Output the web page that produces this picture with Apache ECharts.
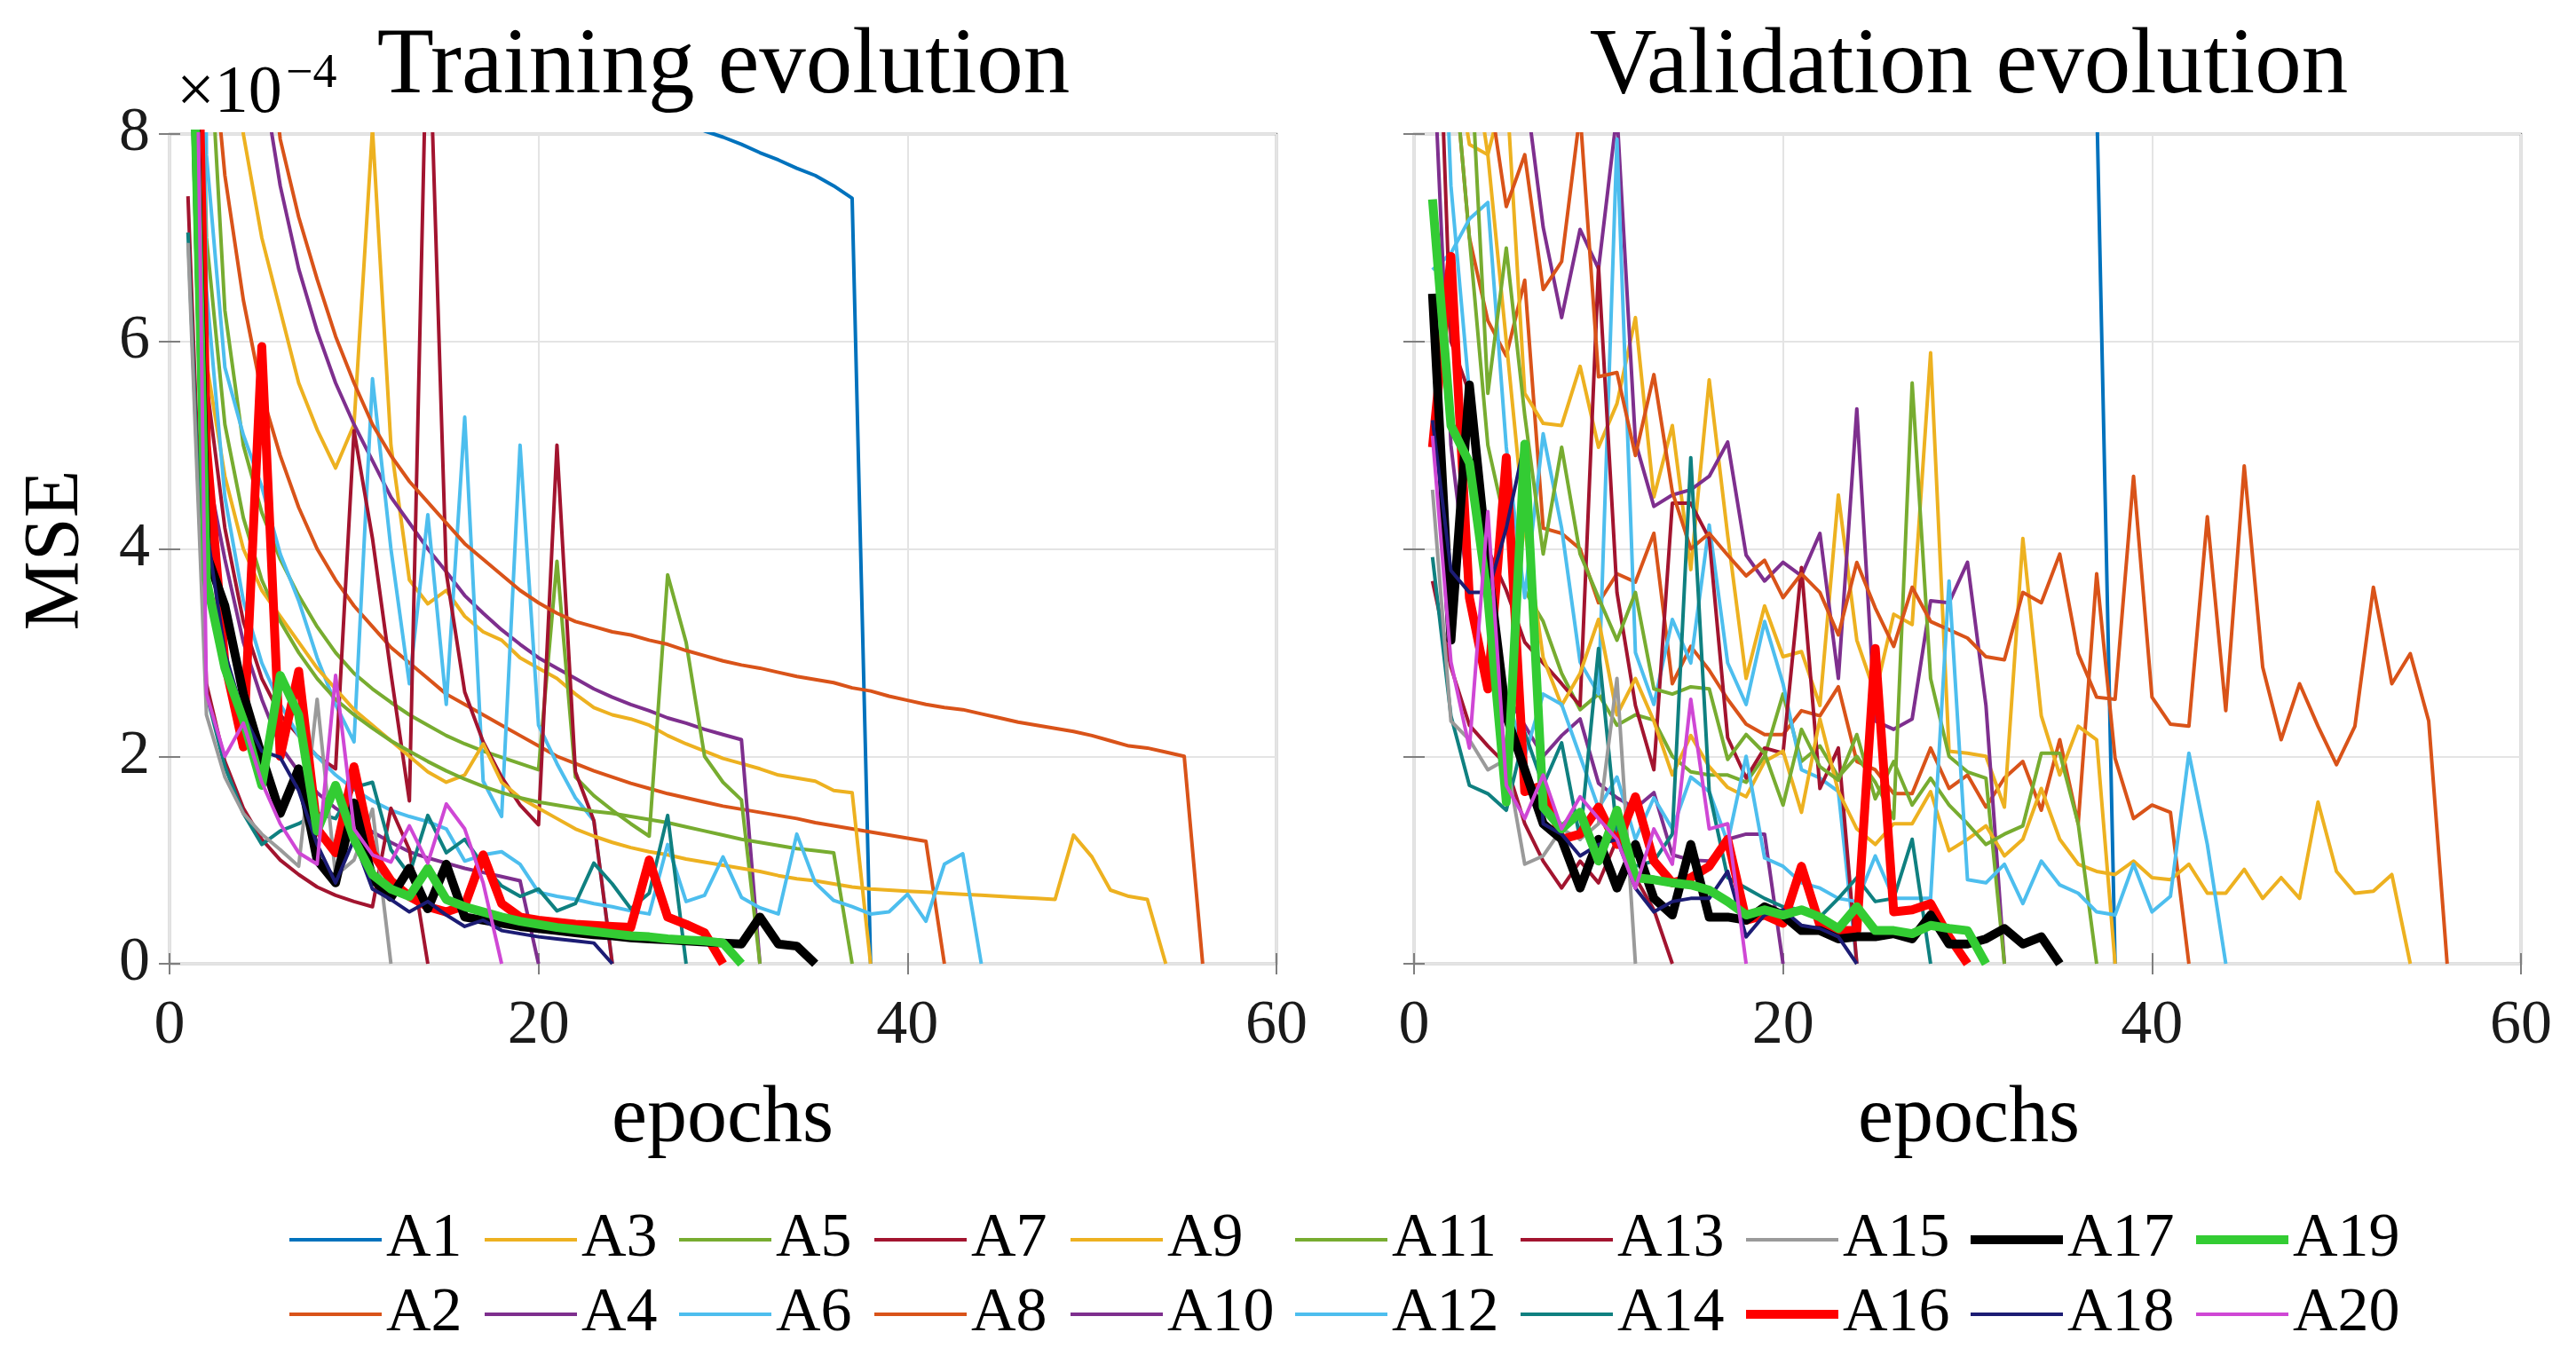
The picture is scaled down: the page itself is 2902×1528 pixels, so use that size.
<!DOCTYPE html>
<html>
<head>
<meta charset="utf-8">
<title>Training / Validation evolution</title>
<script src="https://cdn.jsdelivr.net/npm/echarts@6/dist/echarts.min.js"></script>
<style>
  html, body { margin: 0; padding: 0; background: #fff; }
  #chart { width: 2902px; height: 1528px; }
</style>
</head>
<body>
<div id="chart"></div>
<script>
// MSE values in units of 1e-4 (axis shows x10^-4), value i belongs to epoch i+1
// training
const trainA1 = [95, 60, 42, 33, 27, 23, 20, 18, 16.5, 15.2, 14.2, 13.3, 12.6, 12, 11.5, 11, 10.6, 10.2, 9.9, 9.6,
  9.35, 9.1, 8.9, 8.7, 8.55, 8.4, 8.27, 8.15, 8.03, 7.97, 7.9, 7.82, 7.75, 7.67, 7.6, 7.5, 7.38, 0];
const trainA2 = [30, 9.5, 7.6, 6.4, 5.5, 4.9, 4.4, 4.0, 3.7, 3.45, 3.25, 3.05, 2.9, 2.75, 2.6, 2.5, 2.4, 2.3, 2.2, 2.1,
  2.0, 1.93, 1.86, 1.8, 1.74, 1.69, 1.64, 1.6, 1.56, 1.52, 1.49, 1.46, 1.43, 1.4, 1.36, 1.33, 1.3, 1.27, 1.24, 1.21,
  1.18, 0];
const trainA3 = [40, 20, 11, 8.0, 7.0, 6.3, 5.6, 5.15, 4.78, 5.2, 8.05, 5.0, 3.7, 3.47, 3.6, 3.35, 3.2, 3.12, 2.95, 2.85,
  2.75, 2.6, 2.47, 2.4, 2.36, 2.3, 2.2, 2.12, 2.05, 1.98, 1.93, 1.88, 1.82, 1.79, 1.76, 1.67, 1.65, 0];
const trainA4 = [50, 25, 15, 11, 8.6, 7.5, 6.7, 6.1, 5.6, 5.2, 4.85, 4.5, 4.25, 4.0, 3.78, 3.55, 3.38, 3.22, 3.08, 2.95,
  2.85, 2.75, 2.65, 2.57, 2.5, 2.44, 2.37, 2.32, 2.26, 2.21, 2.16, 0];
const trainA5 = [12, 9.5, 6.3, 5.0, 4.35, 3.9, 3.55, 3.25, 3.0, 2.8, 2.65, 2.52, 2.4, 2.3, 2.2, 2.12, 2.05, 1.99, 1.93, 1.87,
  3.88, 1.8, 1.62, 1.48, 1.35, 1.23, 3.75, 3.1, 2.0, 1.75, 1.58, 0];
const trainA6 = [30, 7.8, 5.75, 5.1, 4.6, 3.95, 3.5, 2.95, 2.5, 2.14, 5.64, 4.0, 2.7, 4.33, 2.5, 5.27, 1.76, 1.42, 5.0, 2.3,
  1.93, 1.6, 1.38, 0];
const trainA7 = [25, 5.6, 4.2, 3.3, 2.75, 2.4, 2.2, 2.0, 1.88, 5.14, 4.1, 2.8, 1.57, 9.5, 3.77, 2.62, 2.14, 1.8, 1.53, 1.34,
  5.0, 1.85, 1.38, 0];
const trainA8 = [60, 30, 18, 12.5, 9.5, 7.95, 7.2, 6.6, 6.05, 5.6, 5.2, 4.9, 4.65, 4.45, 4.25, 4.05, 3.9, 3.75, 3.6, 3.48,
  3.38, 3.3, 3.25, 3.2, 3.17, 3.12, 3.08, 3.02, 2.97, 2.92, 2.88, 2.85, 2.81, 2.77, 2.74, 2.71, 2.66, 2.63, 2.58, 2.54,
  2.5, 2.47, 2.45, 2.41, 2.37, 2.33, 2.3, 2.27, 2.24, 2.2, 2.15, 2.1, 2.08, 2.04, 2.0, 0];
const trainA9 = [12, 5.8, 4.7, 4.0, 3.6, 3.35, 3.1, 2.85, 2.65, 2.45, 2.3, 2.15, 2.0, 1.85, 1.75, 1.82, 2.12, 1.75, 1.6, 1.5,
  1.4, 1.3, 1.23, 1.17, 1.12, 1.08, 1.05, 1.01, 0.98, 0.95, 0.92, 0.89, 0.85, 0.82, 0.8, 0.77, 0.74, 0.72, 0.71, 0.7,
  0.69, 0.68, 0.67, 0.66, 0.65, 0.64, 0.63, 0.62, 1.24, 1.03, 0.71, 0.65, 0.62, 0];
const trainA10 = [9.5, 4.8, 3.9, 3.1, 2.55, 2.1, 1.85, 1.65, 1.5, 1.38, 1.27, 1.17, 1.08, 1.02, 0.97, 0.92, 0.88, 0.84, 0.8, 0];
const trainA11 = [15, 7.0, 5.2, 4.3, 3.7, 3.3, 3.0, 2.75, 2.55, 2.4, 2.27, 2.15, 2.05, 1.95, 1.86, 1.78, 1.71, 1.65, 1.6, 1.56,
  1.53, 1.5, 1.47, 1.45, 1.42, 1.39, 1.36, 1.32, 1.28, 1.24, 1.2, 1.17, 1.14, 1.11, 1.09, 1.07, 0];
const trainA12 = [20, 6.5, 4.5, 3.5, 2.9, 2.5, 2.2, 2.0, 1.82, 1.68, 1.57, 1.48, 1.42, 1.37, 1.3, 0.99, 1.05, 1.08, 0.96, 0.69,
  0.65, 0.62, 0.58, 0.55, 0.51, 0.48, 1.15, 0.6, 0.66, 1.03, 0.64, 0.54, 0.48, 1.25, 0.78, 0.61, 0.55, 0.48, 0.5, 0.67,
  0.41, 0.96, 1.06, 0];
const trainA13 = [7.4, 2.7, 1.95, 1.5, 1.2, 1.0, 0.86, 0.74, 0.66, 0.6, 0.55, 1.5, 1.1, 0];
const trainA14 = [7.05, 2.6, 1.9, 1.45, 1.15, 1.28, 1.35, 1.45, 1.4, 1.7, 1.75, 1.1, 0.86, 1.43, 1.07, 1.2, 0.95, 0.75, 0.65, 0.72,
  0.51, 0.58, 0.97, 0.77, 0.53, 0.68, 1.43, 0];
const trainA15 = [6.95, 2.4, 1.8, 1.45, 1.25, 1.1, 0.94, 2.55, 0.85, 1.0, 1.49, 0];
const trainA16 = [14, 5.0, 2.9, 2.09, 5.95, 2.0, 2.82, 1.3, 1.07, 1.9, 1.07, 0.8, 0.65, 0.55, 0.5, 0.56, 1.05, 0.58, 0.45, 0.42,
  0.4, 0.38, 0.37, 0.36, 0.35, 1.0, 0.45, 0.38, 0.3, 0];
const trainA17 = [11, 3.95, 3.45, 2.6, 2.0, 1.45, 1.88, 1.0, 0.78, 1.55, 0.82, 0.64, 0.92, 0.53, 0.96, 0.45, 0.42, 0.39, 0.36, 0.34,
  0.32, 0.3, 0.28, 0.27, 0.25, 0.24, 0.23, 0.22, 0.21, 0.2, 0.19, 0.45, 0.19, 0.17, 0];
const trainA18 = [12, 4.2, 3.0, 2.4, 2.05, 1.99, 1.67, 1.15, 0.78, 1.2, 0.72, 0.62, 0.5, 0.6, 0.47, 0.36, 0.42, 0.32, 0.29, 0.26,
  0.24, 0.22, 0.2, 0];
const trainA19 = [11, 3.7, 2.85, 2.35, 1.72, 2.78, 2.4, 1.28, 1.72, 1.2, 0.86, 0.72, 0.65, 0.92, 0.62, 0.55, 0.5, 0.45, 0.41, 0.38,
  0.35, 0.33, 0.31, 0.29, 0.27, 0.26, 0.24, 0.23, 0.22, 0.2, 0];
const trainA20 = [15, 2.6, 2.0, 2.32, 1.75, 1.35, 1.07, 0.96, 2.78, 1.3, 1.05, 0.98, 1.33, 0.97, 1.54, 1.3, 0.78, 0];

// validation
const valA1 = [80, 50, 38, 31, 27, 24, 22, 20.5, 19, 18, 17, 16.2, 15.5, 14.9, 14.3, 13.8, 13.3, 12.9, 12.5, 12.1,
  11.8, 11.5, 11.2, 10.9, 10.6, 10.4, 10.2, 10, 9.8, 9.6, 9.4, 9.25, 9.1, 8.95, 8.8, 8.65, 8.35, 0];
const valA2 = [12, 9, 7.0, 6.2, 5.86, 6.59, 4.2, 4.15, 4.0, 3.48, 3.76, 3.68, 4.15, 2.7, 3.06, 2.83, 2.55, 2.31, 2.21, 2.21,
  2.44, 2.39, 2.67, 1.95, 1.87, 1.64, 1.64, 2.08, 1.69, 1.82, 1.51, 1.79, 1.95, 1.48, 2.16, 1.35, 3.76, 1.98, 1.4, 1.53,
  1.46, 0];
const valA3 = [20, 12, 9, 7.8, 8.5, 5.5, 5.21, 5.19, 5.76, 4.98, 5.4, 6.23, 4.5, 5.19, 3.8, 5.63, 4.13, 2.75, 3.45, 2.96,
  3.01, 2.49, 4.52, 3.12, 2.6, 3.37, 3.27, 5.89, 2.05, 2.03, 2.0, 1.51, 4.1, 2.39, 1.82, 2.29, 2.16, 0];
const valA4 = [40, 25, 18, 13, 10, 8.5, 7.1, 6.23, 7.08, 6.7, 8.2, 5.03, 4.41, 4.52, 4.57, 4.7, 5.03, 3.94, 3.69, 3.87,
  3.74, 4.15, 2.75, 5.35, 2.34, 2.26, 2.36, 3.5, 3.48, 3.87, 2.49, 0];
const valA5 = [15, 9, 7.0, 5.0, 4.2, 3.6, 3.3, 2.8, 2.45, 2.6, 2.3, 2.4, 2.35, 2.0, 1.85, 1.82, 1.82, 1.75, 2.0, 2.6,
  1.95, 2.1, 1.8, 2.0, 1.75, 1.4, 5.6, 2.75, 2.0, 1.85, 1.79, 0];
const valA6 = [6.69, 6.85, 7.18, 7.34, 4.98, 3.53, 5.11, 4.2, 2.91, 2.6, 7.95, 3.0, 2.5, 3.32, 2.9, 4.23, 2.9, 2.5, 3.3, 2.7,
  1.87, 1.79, 1.66, 0];
const valA7 = [11, 6.0, 5.5, 4.0, 3.6, 3.1, 2.9, 2.7, 2.49, 6.72, 3.58, 2.49, 1.87, 4.44, 4.44, 4.1, 2.18, 1.79, 2.08, 2.03,
  3.82, 1.69, 2.08, 0];
const valA8 = [30, 15, 9, 8.5, 7.3, 7.8, 6.5, 6.77, 8.2, 5.66, 5.7, 4.9, 5.68, 4.55, 4.0, 4.15, 3.94, 3.74, 3.89, 3.53,
  3.76, 3.58, 3.17, 3.87, 3.43, 3.06, 3.63, 3.3, 3.22, 3.14, 2.96, 2.93, 3.58, 3.48, 3.95, 2.99, 2.57, 2.55, 4.7, 2.57,
  2.31, 2.29, 4.31, 2.44, 4.8, 2.86, 2.16, 2.7, 2.29, 1.92, 2.29, 3.63, 2.7, 2.99, 2.34, 0];
const valA9 = [15, 9, 7.9, 7.8, 6.0, 4.2, 2.95, 2.49, 2.8, 3.32, 2.4, 2.75, 2.34, 1.82, 2.2, 1.9, 1.7, 1.61, 1.95, 2.05,
  1.46, 2.36, 1.66, 1.3, 1.15, 1.35, 1.35, 1.66, 1.09, 1.2, 1.33, 1.04, 1.2, 1.69, 1.2, 0.96, 0.89, 0.86, 0.99, 0.83,
  0.81, 0.96, 0.68, 0.68, 0.91, 0.63, 0.83, 0.63, 1.56, 0.89, 0.68, 0.7, 0.86, 0];
const valA10 = [9, 5.0, 3.5, 2.8, 2.6, 2.3, 2.0, 2.2, 2.36, 1.74, 1.6, 1.5, 1.65, 1.05, 1.0, 0.99, 1.2, 1.25, 1.25, 0];
const valA11 = [12, 10, 9, 5.5, 6.9, 5.29, 3.95, 4.98, 3.95, 3.53, 3.12, 3.58, 2.65, 2.6, 2.67, 2.65, 1.97, 2.21, 2.03, 1.53,
  2.26, 1.9, 1.77, 2.21, 1.59, 1.95, 1.53, 1.79, 1.53, 1.35, 1.15, 1.25, 1.33, 2.03, 2.03, 1.35, 0];
const valA12 = [12, 7.5, 5.5, 3.5, 2.6, 2.0, 2.6, 2.5, 2.0, 1.5, 1.8, 1.2, 1.6, 1.3, 1.8, 1.66, 1.17, 2.0, 1.02, 0.94,
  0.78, 0.73, 0.63, 0.6, 1.04, 0.63, 0.63, 0.63, 3.69, 0.81, 0.78, 0.96, 0.58, 0.99, 0.76, 0.68, 0.5, 0.47, 0.96, 0.5,
  0.65, 2.03, 1.15, 0];
const valA13 = [3.69, 2.86, 2.3, 2.1, 1.92, 1.35, 0.99, 0.73, 0.99, 0.78, 1.2, 0.83, 0.52, 0];
const valA14 = [3.92, 2.39, 1.72, 1.64, 1.48, 2.23, 1.72, 2.13, 1.2, 3.04, 1.25, 0.94, 0.99, 1.25, 4.88, 1.66, 0.83, 0.73, 0.63, 0.55,
  0.52, 0.45, 0.63, 0.83, 0.6, 0.63, 1.2, 0];
const valA15 = [4.57, 2.34, 2.16, 1.87, 1.97, 0.96, 1.04, 1.3, 1.2, 1.35, 2.75, 0];
const valA16 = [4.98, 6.82, 3.53, 2.65, 4.88, 1.66, 1.72, 1.2, 1.25, 1.51, 1.15, 1.61, 0.99, 0.78, 0.83, 0.94, 1.2, 0.42, 0.47, 0.39,
  0.94, 0.37, 0.32, 0.32, 3.04, 0.5, 0.52, 0.58, 0.26, 0];
const valA17 = [6.46, 3.12, 5.58, 3.84, 2.39, 1.87, 1.35, 1.2, 0.73, 1.2, 0.73, 1.15, 0.63, 0.47, 1.15, 0.45, 0.45, 0.42, 0.55, 0.47,
  0.32, 0.32, 0.24, 0.26, 0.26, 0.29, 0.24, 0.47, 0.19, 0.19, 0.24, 0.34, 0.19, 0.26, 0];
const valA18 = [5.24, 3.79, 3.58, 3.58, 4.2, 5.03, 1.35, 1.25, 1.04, 1.15, 1.2, 0.73, 0.5, 0.6, 0.63, 0.63, 0.89, 0.26, 0.47, 0.52,
  0.37, 0.34, 0.26, 0];
const valA19 = [7.37, 5.19, 4.83, 3.53, 1.56, 5.01, 1.51, 1.3, 1.46, 0.99, 1.48, 0.83, 0.81, 0.78, 0.76, 0.71, 0.6, 0.47, 0.52, 0.47,
  0.52, 0.45, 0.34, 0.55, 0.32, 0.32, 0.29, 0.37, 0.34, 0.32, 0];
const valA20 = [5.09, 2.91, 2.08, 4.36, 1.72, 1.4, 1.82, 1.3, 1.61, 1.4, 1.2, 0.73, 1.3, 0.96, 2.55, 1.3, 1.35, 0];

const names = ['A1', 'A2', 'A3', 'A4', 'A5', 'A6', 'A7', 'A8', 'A9', 'A10',
  'A11', 'A12', 'A13', 'A14', 'A15', 'A16', 'A17', 'A18', 'A19', 'A20'];
const trainData = [trainA1, trainA2, trainA3, trainA4, trainA5, trainA6, trainA7, trainA8, trainA9, trainA10,
  trainA11, trainA12, trainA13, trainA14, trainA15, trainA16, trainA17, trainA18, trainA19, trainA20];
const valData = [valA1, valA2, valA3, valA4, valA5, valA6, valA7, valA8, valA9, valA10,
  valA11, valA12, valA13, valA14, valA15, valA16, valA17, valA18, valA19, valA20];

const colors = ['#0072BD', '#D95319', '#EDB120', '#7E2F8E', '#77AC30', '#4DBEEE', '#A2142F', '#D95319', '#EDB120', '#7E2F8E',
  '#77AC30', '#4DBEEE', '#A2142F', '#0F8080', '#9A9A9A', '#FF0000', '#000000', '#1C1C74', '#33CC33', '#CF47D5'];
const thick = ['A16', 'A17', 'A19'];

const FONT = '"Liberation Serif", "Times New Roman", serif';
const FRAME = '#7f7f7f';

var chart = echarts.init(document.getElementById('chart'));

function lineW(name) { return thick.indexOf(name) >= 0 ? 10 : 4; }

var series = [];
names.forEach(function (name, k) {
  [trainData[k], valData[k]].forEach(function (arr, p) {
    series.push({
      name: name,
      type: 'line',
      xAxisIndex: p,
      yAxisIndex: p,
      symbol: 'none',
      color: colors[k],
      lineStyle: { color: colors[k], width: lineW(name), join: 'round' },
      silent: true,
      data: arr.map(function (v, i) { return [i + 1, v]; })
    });
  });
});

function xAx(gi, pos) {
  return {
    type: 'value', gridIndex: gi, position: pos, min: 0, max: 60, interval: 20,
    axisLine: { show: false },
    axisTick: { show: true, inside: true, length: 12, lineStyle: { color: FRAME, width: 2 } },
    axisLabel: { show: pos === 'bottom', fontFamily: FONT, fontSize: 70, color: '#1a1a1a', margin: 36 },
    splitLine: { show: pos === 'bottom', lineStyle: { color: '#e4e4e4', width: 2 } }
  };
}
function yAx(gi, pos, labels) {
  return {
    type: 'value', gridIndex: gi, position: pos, min: 0, max: 8, interval: 2,
    axisLine: { show: false },
    axisTick: { show: true, inside: true, length: 12, lineStyle: { color: FRAME, width: 2 } },
    axisLabel: { show: labels, fontFamily: FONT, fontSize: 70, color: '#1a1a1a', margin: 22 },
    splitLine: { show: pos === 'left', lineStyle: { color: '#e4e4e4', width: 2 } }
  };
}

// legend: 10 columns, 2 rows (odd names on top); plain line icons of the series width
function legendItem(name) {
  return { name: name, icon: 'path://M0,0H104V' + lineW(name) + 'H0Z' };
}
var legendCols = [326, 546, 765, 985, 1206, 1459, 1713, 1967, 2220, 2474];
var legends = legendCols.map(function (x, c) {
  return {
    left: x, top: 1361, orient: 'vertical', padding: 0, itemGap: 12,
    itemWidth: 104, itemHeight: 20, selectedMode: false, symbolKeepAspect: true,
    itemStyle: { borderWidth: 0 },
    data: [legendItem(names[2 * c]), legendItem(names[2 * c + 1])],
    textStyle: { fontFamily: FONT, fontSize: 70, lineHeight: 72, color: '#000' }
  };
});

function txt(x, y, s, size, opts) {
  return Object.assign({
    type: 'text', x: x, y: y, silent: true,
    style: { text: s, font: size + 'px ' + FONT, fill: '#000', textAlign: 'center', textVerticalAlign: 'middle' }
  }, opts || {});
}

chart.setOption({
  animation: false,
  backgroundColor: '#fff',
  grid: [
    { left: 191, top: 151, width: 1247, height: 935, show: true, borderColor: FRAME, borderWidth: 2.5, backgroundColor: '#fff' },
    { left: 1593, top: 151, width: 1247, height: 935, show: true, borderColor: FRAME, borderWidth: 2.5, backgroundColor: '#fff' }
  ],
  xAxis: [xAx(0, 'bottom'), xAx(1, 'bottom'), xAx(0, 'top'), xAx(1, 'top')],
  yAxis: [yAx(0, 'left', true), yAx(1, 'left', false), yAx(0, 'right', false), yAx(1, 'right', false)],
  legend: legends,
  graphic: [
    txt(815, 76, 'Training evolution', 105),
    txt(2218, 76, 'Validation evolution', 105),
    txt(64, 620, 'MSE', 88, { rotation: Math.PI / 2 }),
    txt(814, 1262, 'epochs', 90),
    txt(2218, 1262, 'epochs', 90),
    {
      type: 'text', x: 199, y: 106, silent: true,
      style: { text: '\u00d710', font: '76px ' + FONT, fill: '#000', textAlign: 'left', textVerticalAlign: 'middle' }
    },
    {
      type: 'text', x: 322, y: 84, silent: true,
      style: { text: '\u22124', font: '54px ' + FONT, fill: '#000', textAlign: 'left', textVerticalAlign: 'middle' }
    }
  ],
  series: series
});
</script>
</body>
</html>
